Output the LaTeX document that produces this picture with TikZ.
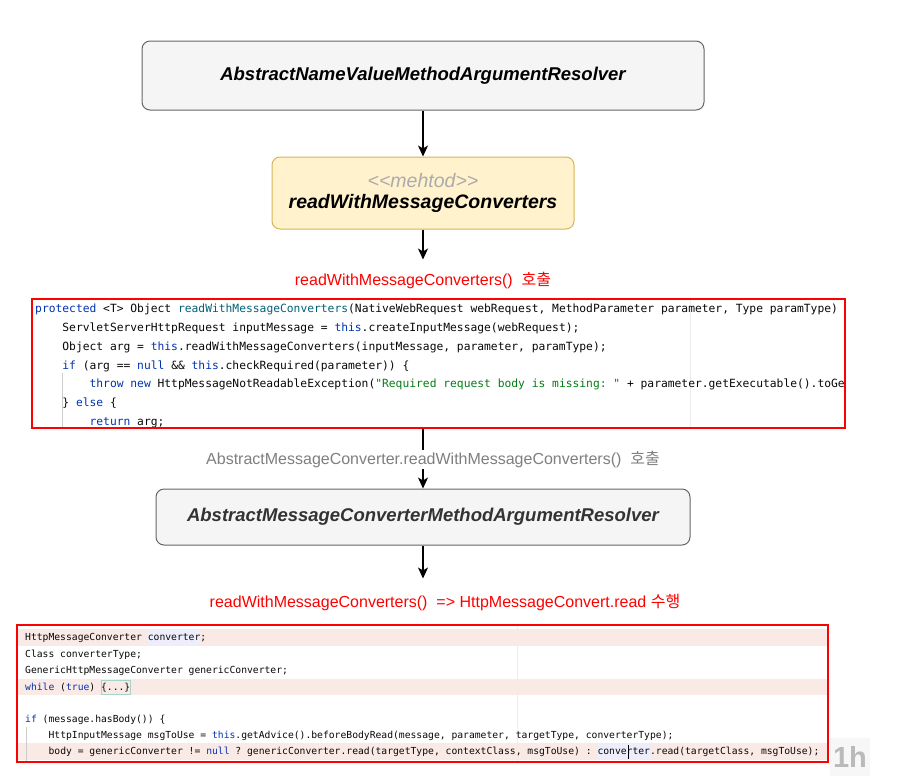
\documentclass[tikz,border=0pt]{standalone}
\usepackage{fontspec}
\setmainfont{Liberation Sans}
\setmonofont{DejaVu Sans Mono}
\newfontfamily\krfont{Noto Sans CJK KR}
\usetikzlibrary{arrows.meta,positioning}
\definecolor{boxgray}{HTML}{F5F5F5}
\definecolor{boxline}{HTML}{666666}
\definecolor{notefill}{HTML}{FFF2CC}
\definecolor{noteline}{HTML}{D6B656}
\definecolor{kwblue}{HTML}{0033B3}
\definecolor{mdteal}{HTML}{00627A}
\definecolor{strgreen}{HTML}{067D17}
\definecolor{codetext}{HTML}{080808}
\definecolor{rowpink}{HTML}{FAEAE6}
\definecolor{selblue}{HTML}{EDEDFC}
\definecolor{labelgray}{HTML}{7F7F7F}
\definecolor{foldgreen}{HTML}{A3D6C4}
\newcommand{\kw}[1]{\textcolor{kwblue}{#1}}

\begin{document}
\begin{tikzpicture}[x=1pt,y=-1pt,
    class/.style={draw=boxline,fill=boxgray,rounded corners=8pt,line width=1pt,
                  font=\fontsize{18.5}{21}\selectfont\bfseries\itshape},
    flow/.style={-{Stealth[length=11pt,width=10pt,inset=3pt]},line width=1.2pt},
    call/.style={font=\fontsize{16}{18}\selectfont,inner sep=1pt},
    codebox/.style={draw=red,line width=1.3pt,inner sep=0pt},
    codeA/.style={anchor=base west,inner sep=0pt,text=codetext,
                  font=\fontsize{11.3}{14}\selectfont\ttfamily},
    codeB/.style={anchor=base west,inner sep=0pt,text=codetext,
                  font=\fontsize{9.7}{12}\selectfont\ttfamily}]
  \useasboundingbox[fill=white] (0,0) rectangle (911,780);

  % class chain
  \node[class,minimum width=562pt,minimum height=69pt] (absnv) at (423,75.5)
       {AbstractNameValueMethodArgumentResolver};
  \node[class,draw=noteline,fill=notefill,minimum width=302pt,minimum height=72pt,
        align=center,font=\fontsize{19.5}{21.5}\selectfont\bfseries\itshape,
        below=46pt of absnv] (rwmc)
       {{\mdseries\color{black!33}<{}<mehtod>{}>}\\readWithMessageConverters};
  \coordinate[below=30pt of rwmc] (callend);
  \node[call,text=red] (callA) at (423,280)
       {readWithMessageConverters()\ \ {\krfont 호출}};

  \node[class,text=black!80,minimum width=534pt,minimum height=56pt] (absmc) at (423,517)
       {AbstractMessageConverterMethodArgumentResolver};
  \coordinate[below=33pt of absmc] (readend);
  \node[call,text=red] (callB) at (445,603)
       {readWithMessageConverters()\ \ =>\ HttpMessageConvert.read {\krfont 수행}};

  % code 1
  \draw[black!7] (690,300) -- (690,427);
  \draw[black!20] (62.5,373) -- (62.5,427);
  \node[codeA] (c1a) at (35,312) {\kw{protected} <T> Object \textcolor{mdteal}{readWithMessageConverters}(NativeWebRequest webRequest, MethodParameter parameter, Type paramType)};
  \node[codeA] (c1b) at (62.2,331) {ServletServerHttpRequest inputMessage = \kw{this}.createInputMessage(webRequest);};
  \node[codeA] (c1c) at (62.2,350) {Object arg = \kw{this}.readWithMessageConverters(inputMessage, parameter, paramType);};
  \node[codeA] (c1d) at (62.2,369) {\kw{if} (arg == \kw{null} \&\& \kw{this}.checkRequired(parameter)) \{};
  \node[codeA] (c1e) at (89.4,387.5) {\kw{throw} \kw{new} HttpMessageNotReadableException(\textcolor{strgreen}{"Required request body is missing: "} + parameter.getExecutable().toGe};
  \node[codeA] (c1f) at (62.2,406) {\} \kw{else} \{};
  \node[codeA] (c1g) at (89.4,425) {\kw{return} arg;};
  \node[codebox,minimum width=813pt,minimum height=129pt] (code1) at (438.5,363.5) {};

  % code 2
  \fill[rowpink] (18,629) rectangle (827,646);
  \fill[rowpink] (18,679) rectangle (827,695);
  \fill[rowpink] (18,743) rectangle (827,760);
  \fill[selblue] (147,630) rectangle (200,645);
  \fill[selblue] (598,744) rectangle (651,759);
  \draw[foldgreen,line width=0.8pt] (101,680) rectangle (130.5,694);
  \draw[black!7] (517,626) -- (517,761);
  \draw[black!20] (26,727) -- (26,761);
  \node[codeB] (c2a) at (25,640.5) {HttpMessageConverter converter;};
  \node[codeB] (c2b) at (25,657.5) {Class converterType;};
  \node[codeB] (c2c) at (25,673.5) {GenericHttpMessageConverter genericConverter;};
  \node[codeB] (c2d) at (25,690.5) {\kw{while} (\kw{true}) \{...\}};
  \node[codeB] (c2e) at (25,722.5) {\kw{if} (message.hasBody()) \{};
  \node[codeB] (c2f) at (48.4,738.5) {HttpInputMessage msgToUse = \kw{this}.getAdvice().beforeBodyRead(message, parameter, targetType, converterType);};
  \node[codeB] (c2g) at (48.4,754.5) {body = genericConverter != \kw{null} ? genericConverter.read(targetType, contextClass, msgToUse) : converter.read(targetClass, msgToUse);};
  \draw[black,line width=0.8pt] (628,745) -- (628,759);
  \node[codebox,minimum width=811pt,minimum height=137pt] (code2) at (422.5,693.5) {};

  \node[fill=black!3,minimum width=36pt,minimum height=38pt,text=black!27,
        font=\fontsize{29}{30}\selectfont\bfseries] (tag) at (850,757) {1h};

  % connectors
  \draw[flow] (absnv) -- (rwmc);
  \draw[flow] (rwmc) -- (callend);
  \draw[flow] (code1.south -| absmc.north) -- (absmc.north)
       node[call,pos=0.52,xshift=10pt,fill=white,text=labelgray] (callmid)
       {AbstractMessageConverter.readWithMessageConverters()\ \ {\krfont 호출}};
  \draw[flow] (absmc) -- (readend);
\end{tikzpicture}
\end{document}
